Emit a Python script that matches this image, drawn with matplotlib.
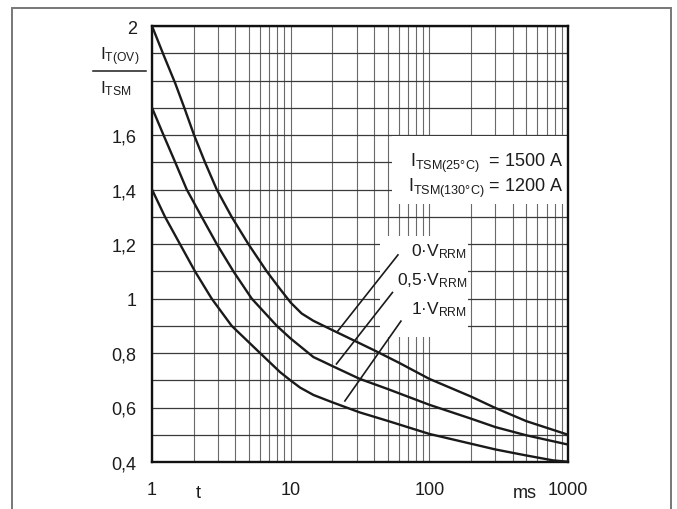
import matplotlib
matplotlib.use("Agg")
import matplotlib.pyplot as plt
from matplotlib.patches import Rectangle
from matplotlib.lines import Line2D
from matplotlib.ticker import FixedLocator, LogLocator, NullFormatter

FONT = 'Liberation Sans'
plt.rcParams['font.family'] = [FONT, 'DejaVu Sans']
plt.rcParams['mathtext.fontset'] = 'custom'
plt.rcParams['mathtext.rm'] = FONT
plt.rcParams['mathtext.it'] = FONT + ':italic'
plt.rcParams['mathtext.bf'] = FONT + ':bold'

# I_T(OV)/I_TSM against time (ms), one curve per reverse voltage
t_0v = [1, 1.22, 1.47, 1.71, 2.01, 2.41, 2.93, 3.75, 4.95, 6.71, 8.38, 10, 12, 14.6,
        20, 28.3, 40, 60, 100, 200, 300, 500, 1000]
ratio_0v = [2.0, 1.89, 1.79, 1.70, 1.60, 1.50, 1.40, 1.30, 1.20, 1.10, 1.035, 0.985, 0.945, 0.918,
            0.884, 0.847, 0.81, 0.765, 0.705, 0.640, 0.598, 0.550, 0.50]

t_05v = [1, 1.21, 1.47, 1.78, 2.28, 2.93, 3.86, 5.23, 7.93, 10, 14.6, 17.2, 20, 31.5,
         50, 100, 200, 300, 500, 1000]
ratio_05v = [1.70, 1.60, 1.50, 1.40, 1.30, 1.20, 1.10, 1.00, 0.90, 0.853, 0.785, 0.768, 0.752, 0.705,
             0.668, 0.610, 0.559, 0.528, 0.498, 0.464]

t_1v = [1, 1.24, 1.59, 2.04, 2.69, 3.75, 6.01, 8.38, 10, 11.7, 14.6, 20, 31.5, 50,
        100, 200, 300, 500, 780, 1000]
ratio_1v = [1.40, 1.30, 1.20, 1.10, 1.00, 0.90, 0.80, 0.730, 0.699, 0.673, 0.646, 0.619, 0.582, 0.551,
            0.503, 0.467, 0.446, 0.424, 0.406, 0.401]

# leader lines from the labels to the curves
leader_t = [(21.9, 59.4), (21.4, 54.2), (24.6, 62.4)]
leader_v = [(0.881, 1.160), (0.760, 1.022), (0.624, 0.917)]
curve_labels = ['0·V$_{\\mathrm{RRM}}$', '0,5·V$_{\\mathrm{RRM}}$', '1·V$_{\\mathrm{RRM}}$']

y_ticks = [0.4, 0.6, 0.8, 1.0, 1.2, 1.4, 1.6, 2.0]
y_labels = ['0,4', '0,6', '0,8', '1', '1,2', '1,4', '1,6', '2']
x_ticks = [1, 10, 100, 1000]
x_labels = ['1', '10', '100', '1000']

W, H = 677, 510
ink = '#1c1c1c'


def fx(px):
    return px / W


def fy(py):
    return 1 - py / H


fig = plt.figure(figsize=(W / 100, H / 100), dpi=100)
ax = fig.add_axes([fx(152), fy(463), (568 - 152) / W, (463 - 27) / H])

ax.set_xscale('log')
ax.set_xlim(1, 1000)
ax.set_ylim(0.4, 2.0)

ax.yaxis.set_major_locator(FixedLocator(y_ticks))
ax.set_yticklabels(y_labels)
ax.yaxis.set_minor_locator(FixedLocator([0.4 + 0.1 * i for i in range(17)]))
ax.xaxis.set_major_locator(FixedLocator(x_ticks))
ax.set_xticklabels(x_labels)
ax.xaxis.set_minor_locator(LogLocator(base=10, subs=range(2, 10)))
ax.xaxis.set_minor_formatter(NullFormatter())

ax.tick_params(which='both', length=0, labelsize=13, colors=ink)
ax.tick_params(axis='x', pad=14)
ax.tick_params(axis='y', pad=11)

ax.grid(which='both', axis='y', color='#3a3a3a', lw=0.9, zorder=0)
ax.grid(which='both', axis='x', color='#6a6a6a', lw=0.8, zorder=0)
ax.set_axisbelow(True)
for s in ax.spines.values():
    s.set_linewidth(1.7)
    s.set_color('#111111')

# white areas behind the annotations
ax.add_patch(Rectangle((0.548, 0.287), 0.212, 0.231, transform=ax.transAxes,
                       facecolor='white', edgecolor='none', zorder=1))
ax.add_patch(Rectangle((0.577, 0.592), 0.42, 0.156, transform=ax.transAxes,
                       facecolor='white', edgecolor='none', zorder=1))

for tt, ratio in ((t_0v, ratio_0v), (t_05v, ratio_05v), (t_1v, ratio_1v)):
    ax.plot(tt, ratio, color='#1a1a1a', lw=1.7, zorder=3, solid_capstyle='round')

for tt, vv in zip(leader_t, leader_v):
    ax.plot(tt, vv, color='#1a1a1a', lw=1.2, zorder=3)

label_y = [0.484, 0.418, 0.352]
for lab, yy in zip(curve_labels, label_y):
    ax.text(0.757, yy, lab, transform=ax.transAxes, ha='right', va='center',
            fontsize=12.5, color=ink, zorder=4)

ax.text(0.990, 0.688, 'I$_{\\mathrm{TSM(25°C)}}$  = 1500 A', transform=ax.transAxes,
        ha='right', va='center', fontsize=13, color=ink, zorder=4)
ax.text(0.990, 0.629, 'I$_{\\mathrm{TSM(130°C)}}$ = 1200 A', transform=ax.transAxes,
        ha='right', va='center', fontsize=13, color=ink, zorder=4)

# axis unit texts on the x axis
ax.text(2.15, -0.07, 't', transform=ax.get_xaxis_transform(), ha='center', va='center',
        fontsize=13, color=ink)
ax.text(489, -0.07, 'ms', transform=ax.get_xaxis_transform(), ha='center', va='center',
        fontsize=13, color=ink)

# y axis label as a fraction
fig.text(fx(100), fy(57), 'I$_{\\mathrm{T(OV)}}$', ha='left', va='center', fontsize=12.5, color=ink)
fig.text(fx(100), fy(89), 'I$_{\\mathrm{TSM}}$', ha='left', va='center', fontsize=12.5, color=ink)
fig.add_artist(Line2D([fx(93), fx(146)], [fy(72), fy(72)], color=ink, lw=1.1))

# outer frame
fig.add_artist(Rectangle((fx(12), fy(530)), fx(671) - fx(12), fy(9) - fy(530),
                         fill=False, edgecolor='#777777', lw=1.4))

fig.savefig('out.png', dpi=100)
